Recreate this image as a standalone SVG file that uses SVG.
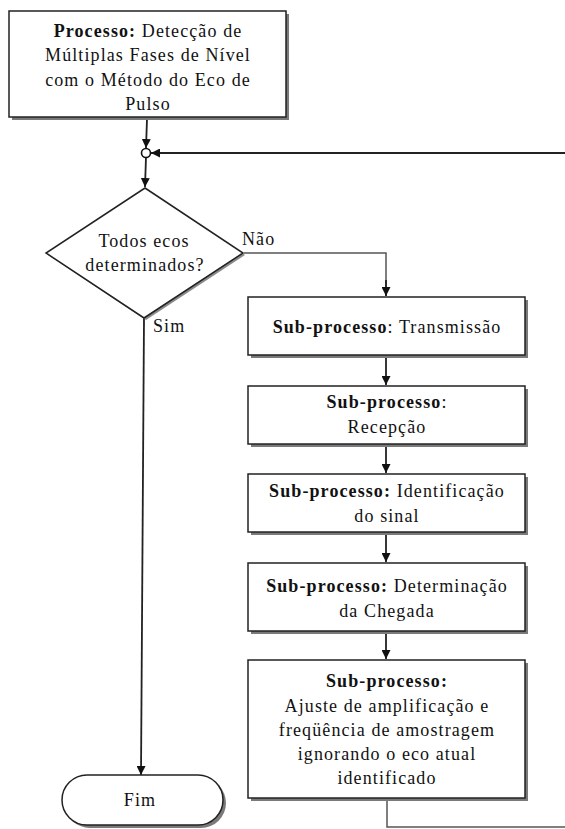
<svg xmlns="http://www.w3.org/2000/svg" width="565" height="829" viewBox="0 0 565 829">
<defs>
<style>
text{font-family:'Liberation Serif','Times New Roman',serif;font-size:18px;fill:#111;letter-spacing:1.1px;text-anchor:middle}
.b{font-weight:bold}
.box{fill:#fff;stroke:#222;stroke-width:1.5}
.sh{fill:#7a7a7a}
.ln{fill:none;stroke:#222;stroke-width:1.8}
.gl{fill:none;stroke:#555;stroke-width:1.5}
</style>
<marker id="ah" viewBox="0 0 10 10" refX="10" refY="5" markerWidth="9" markerHeight="9" markerUnits="userSpaceOnUse" orient="auto">
<path d="M0,0 L10,5 L0,10 z" fill="#111"/>
</marker>
</defs>
<rect width="565" height="829" fill="#fff"/>
<g id="connectors">
<line class="ln" x1="147" y1="119" x2="146" y2="148" marker-end="url(#ah)"/>
<line class="ln" x1="565" y1="153" x2="151" y2="153" marker-end="url(#ah)"/>
<line class="ln" x1="146" y1="157" x2="145" y2="187" marker-end="url(#ah)"/>
<polyline class="gl" points="244,253 386,253 386,296" />
<line class="ln" x1="386" y1="280" x2="386" y2="296" marker-end="url(#ah)"/>
<line class="ln" x1="144" y1="318" x2="141" y2="775" stroke-width="2.2" marker-end="url(#ah)"/>
<line class="ln" x1="386" y1="358" x2="386" y2="385" marker-end="url(#ah)"/>
<line class="ln" x1="386" y1="447" x2="386" y2="473" marker-end="url(#ah)"/>
<line class="ln" x1="386" y1="535" x2="386" y2="562" marker-end="url(#ah)"/>
<line class="ln" x1="386" y1="634" x2="386" y2="659" marker-end="url(#ah)"/>
<polyline class="gl" points="387,800 387,827 565,827"/>
</g>
<g id="junction">
<circle cx="146" cy="153" r="4.5" fill="#fff" stroke="#111" stroke-width="1.6"/>
</g>
<g id="start">
<rect class="sh" x="12" y="14" width="277" height="106"/>
<rect class="box" x="9" y="11" width="277" height="106"/>
<text x="148" y="37"><tspan class="b">Processo:</tspan> Detecção de</text>
<text x="148" y="61">Múltiplas Fases de Nível</text>
<text x="148" y="86">com o Método do Eco de</text>
<text x="148" y="110">Pulso</text>
</g>
<g id="decision">
<polygon points="146,190 245,255 146,320 48,255" fill="#8a8a8a"/>
<polygon points="145,188 243,253 144,318 46,253" fill="#fff" stroke="#222" stroke-width="1.5"/>
<text x="144" y="247">Todos ecos</text>
<text x="145" y="271">determinados?</text>
<text x="242" y="245" style="text-anchor:start">Não</text>
<text x="153" y="332" style="text-anchor:start">Sim</text>
</g>
<g id="transmissao">
<rect class="sh" x="251" y="300" width="277" height="58"/>
<rect class="box" x="248" y="297" width="277" height="58"/>
<text x="387" y="333"><tspan class="b">Sub-processo</tspan>: Transmissão</text>
</g>
<g id="recepcao">
<rect class="sh" x="251" y="389" width="277" height="58"/>
<rect class="box" x="248" y="386" width="277" height="58"/>
<text x="387" y="408"><tspan class="b">Sub-processo</tspan>:</text>
<text x="387" y="433">Recepção</text>
</g>
<g id="identificacao">
<rect class="sh" x="251" y="477" width="277" height="58"/>
<rect class="box" x="248" y="474" width="277" height="58"/>
<text x="387" y="497"><tspan class="b">Sub-processo:</tspan> Identificação</text>
<text x="387" y="522">do sinal</text>
</g>
<g id="chegada">
<rect class="sh" x="251" y="566" width="277" height="68"/>
<rect class="box" x="248" y="563" width="277" height="68"/>
<text x="387" y="592"><tspan class="b">Sub-processo:</tspan> Determinação</text>
<text x="387" y="617">da Chegada</text>
</g>
<g id="ajuste">
<rect class="sh" x="251" y="663" width="277" height="138"/>
<rect class="box" x="248" y="660" width="277" height="138"/>
<text x="387" y="687" class="b">Sub-processo:</text>
<text x="387" y="712">Ajuste de amplificação e</text>
<text x="387" y="736">freqüência de amostragem</text>
<text x="387" y="760">ignorando o eco atual</text>
<text x="387" y="784">identificado</text>
</g>
<g id="fim">
<rect class="sh" x="65" y="778" width="161" height="50" rx="25"/>
<rect class="box" x="62" y="775" width="161" height="50" rx="25"/>
<text x="140" y="806">Fim</text>
</g>
</svg>
